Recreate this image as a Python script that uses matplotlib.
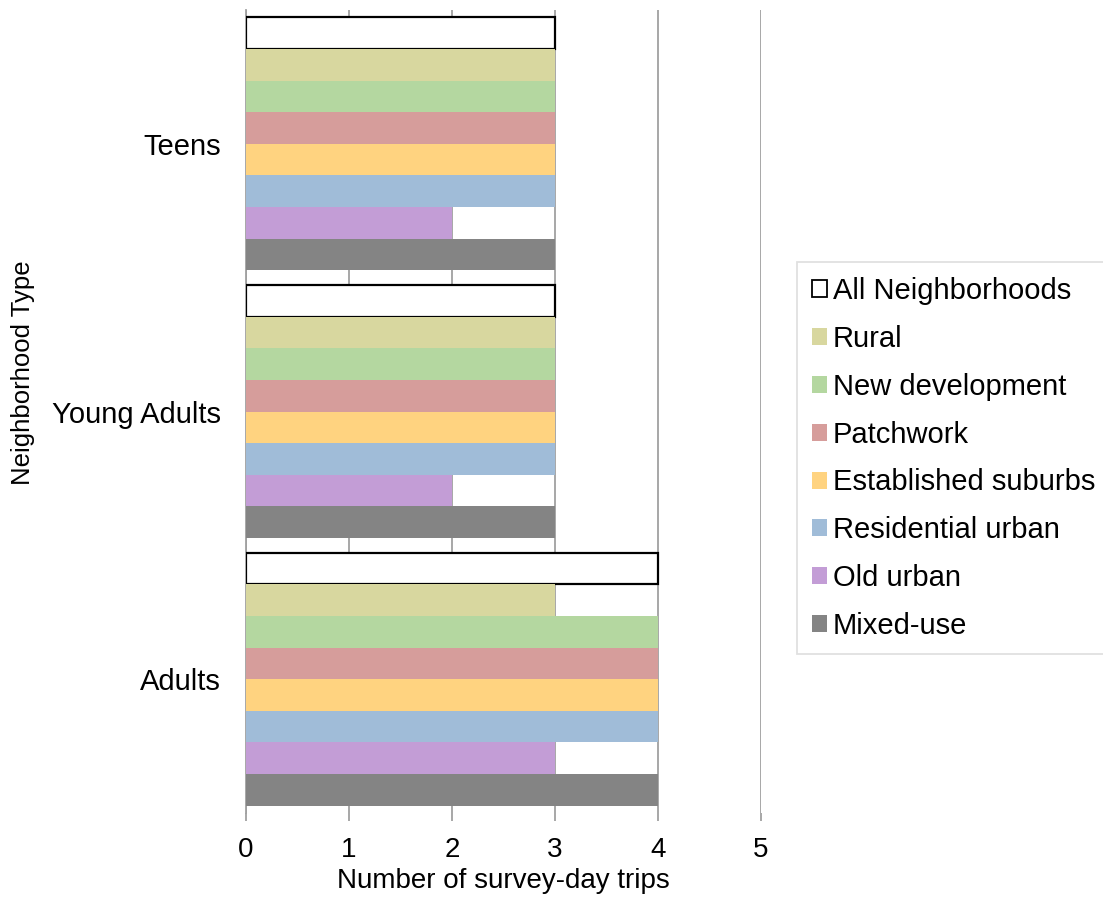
import matplotlib.pyplot as plt
import numpy as np
from matplotlib.patches import Patch

plt.rcParams['font.family'] = ['Liberation Sans', 'DejaVu Sans']

# age groups, bottom to top on the chart
groups = ['Adults', 'Young Adults', 'Teens']

# series, top to bottom inside each group
series = ['All Neighborhoods', 'Rural', 'New development', 'Patchwork',
          'Established suburbs', 'Residential urban', 'Old urban', 'Mixed-use']
colors = ['#ffffff', '#d8d79f', '#b4d7a0', '#d69d9b',
          '#ffd380', '#a0bcd8', '#c39dd6', '#848484']

# values per series: [Adults, Young Adults, Teens]
all_nb = [4, 3, 3]
rural = [3, 3, 3]
new_dev = [4, 3, 3]
patchwork = [4, 3, 3]
established = [4, 3, 3]
residential = [4, 3, 3]
old_urban = [3, 2, 2]
mixed_use = [4, 3, 3]
values = [all_nb, rural, new_dev, patchwork, established, residential, old_urban, mixed_use]

fig = plt.figure(figsize=(11.03, 9.09), dpi=100)
ax = fig.add_axes([0.223, 0.1056, 0.467, 0.8834])

grid_c = '#a0a0a0'
n = len(series)
h = 0.945 / n
yc = np.arange(len(groups))
for i, (name, vals, col) in enumerate(zip(series, values, colors)):
    off = (n / 2 - 0.5 - i) * h
    if i == 0:
        ax.barh(yc + off, vals, height=h, color=col, edgecolor='black',
                linewidth=1.6, zorder=3)
    else:
        ax.barh(yc + off, vals, height=h, color=col, linewidth=0, zorder=3)

ax.set_xlim(0, 5)
ax.set_ylim(-0.5, 2.5)
ax.set_xticks(range(6))
ax.set_yticks(yc)
ax.set_yticklabels(groups)
ax.xaxis.grid(True, color=grid_c, linewidth=1.3, zorder=0)
ax.set_axisbelow(True)
for s in ['top', 'right', 'bottom']:
    ax.spines[s].set_visible(False)
ax.spines['left'].set_color(grid_c)
ax.spines['left'].set_linewidth(1.3)
ax.tick_params(axis='x', length=6, width=1.3, color=grid_c, labelsize=20, pad=11)
ax.tick_params(axis='y', length=0, labelsize=21, pad=18)
ax.set_xlabel('Number of survey-day trips', fontsize=20, labelpad=4)
fig.text(0.021, 1 - 373 / 909, 'Neighborhood Type', fontsize=18.5,
         rotation=90, ha='center', va='center')

handles = []
for name, col in zip(series, colors):
    if col == '#ffffff':
        handles.append(Patch(facecolor='white', edgecolor='black', linewidth=1.3, label=name))
    else:
        handles.append(Patch(facecolor=col, edgecolor='none', label=name))
leg = fig.legend(handles=handles, loc='center left', bbox_to_anchor=(0.7226, 0.4956),
                 fontsize=21, frameon=True, fancybox=False, edgecolor='#d9d9d9',
                 handlelength=0.52, handleheight=0.52, handletextpad=0.2,
                 labelspacing=0.68, borderpad=0.5, borderaxespad=0)
leg.get_frame().set_linewidth(1.3)

fig.savefig('out.png', dpi=100)
